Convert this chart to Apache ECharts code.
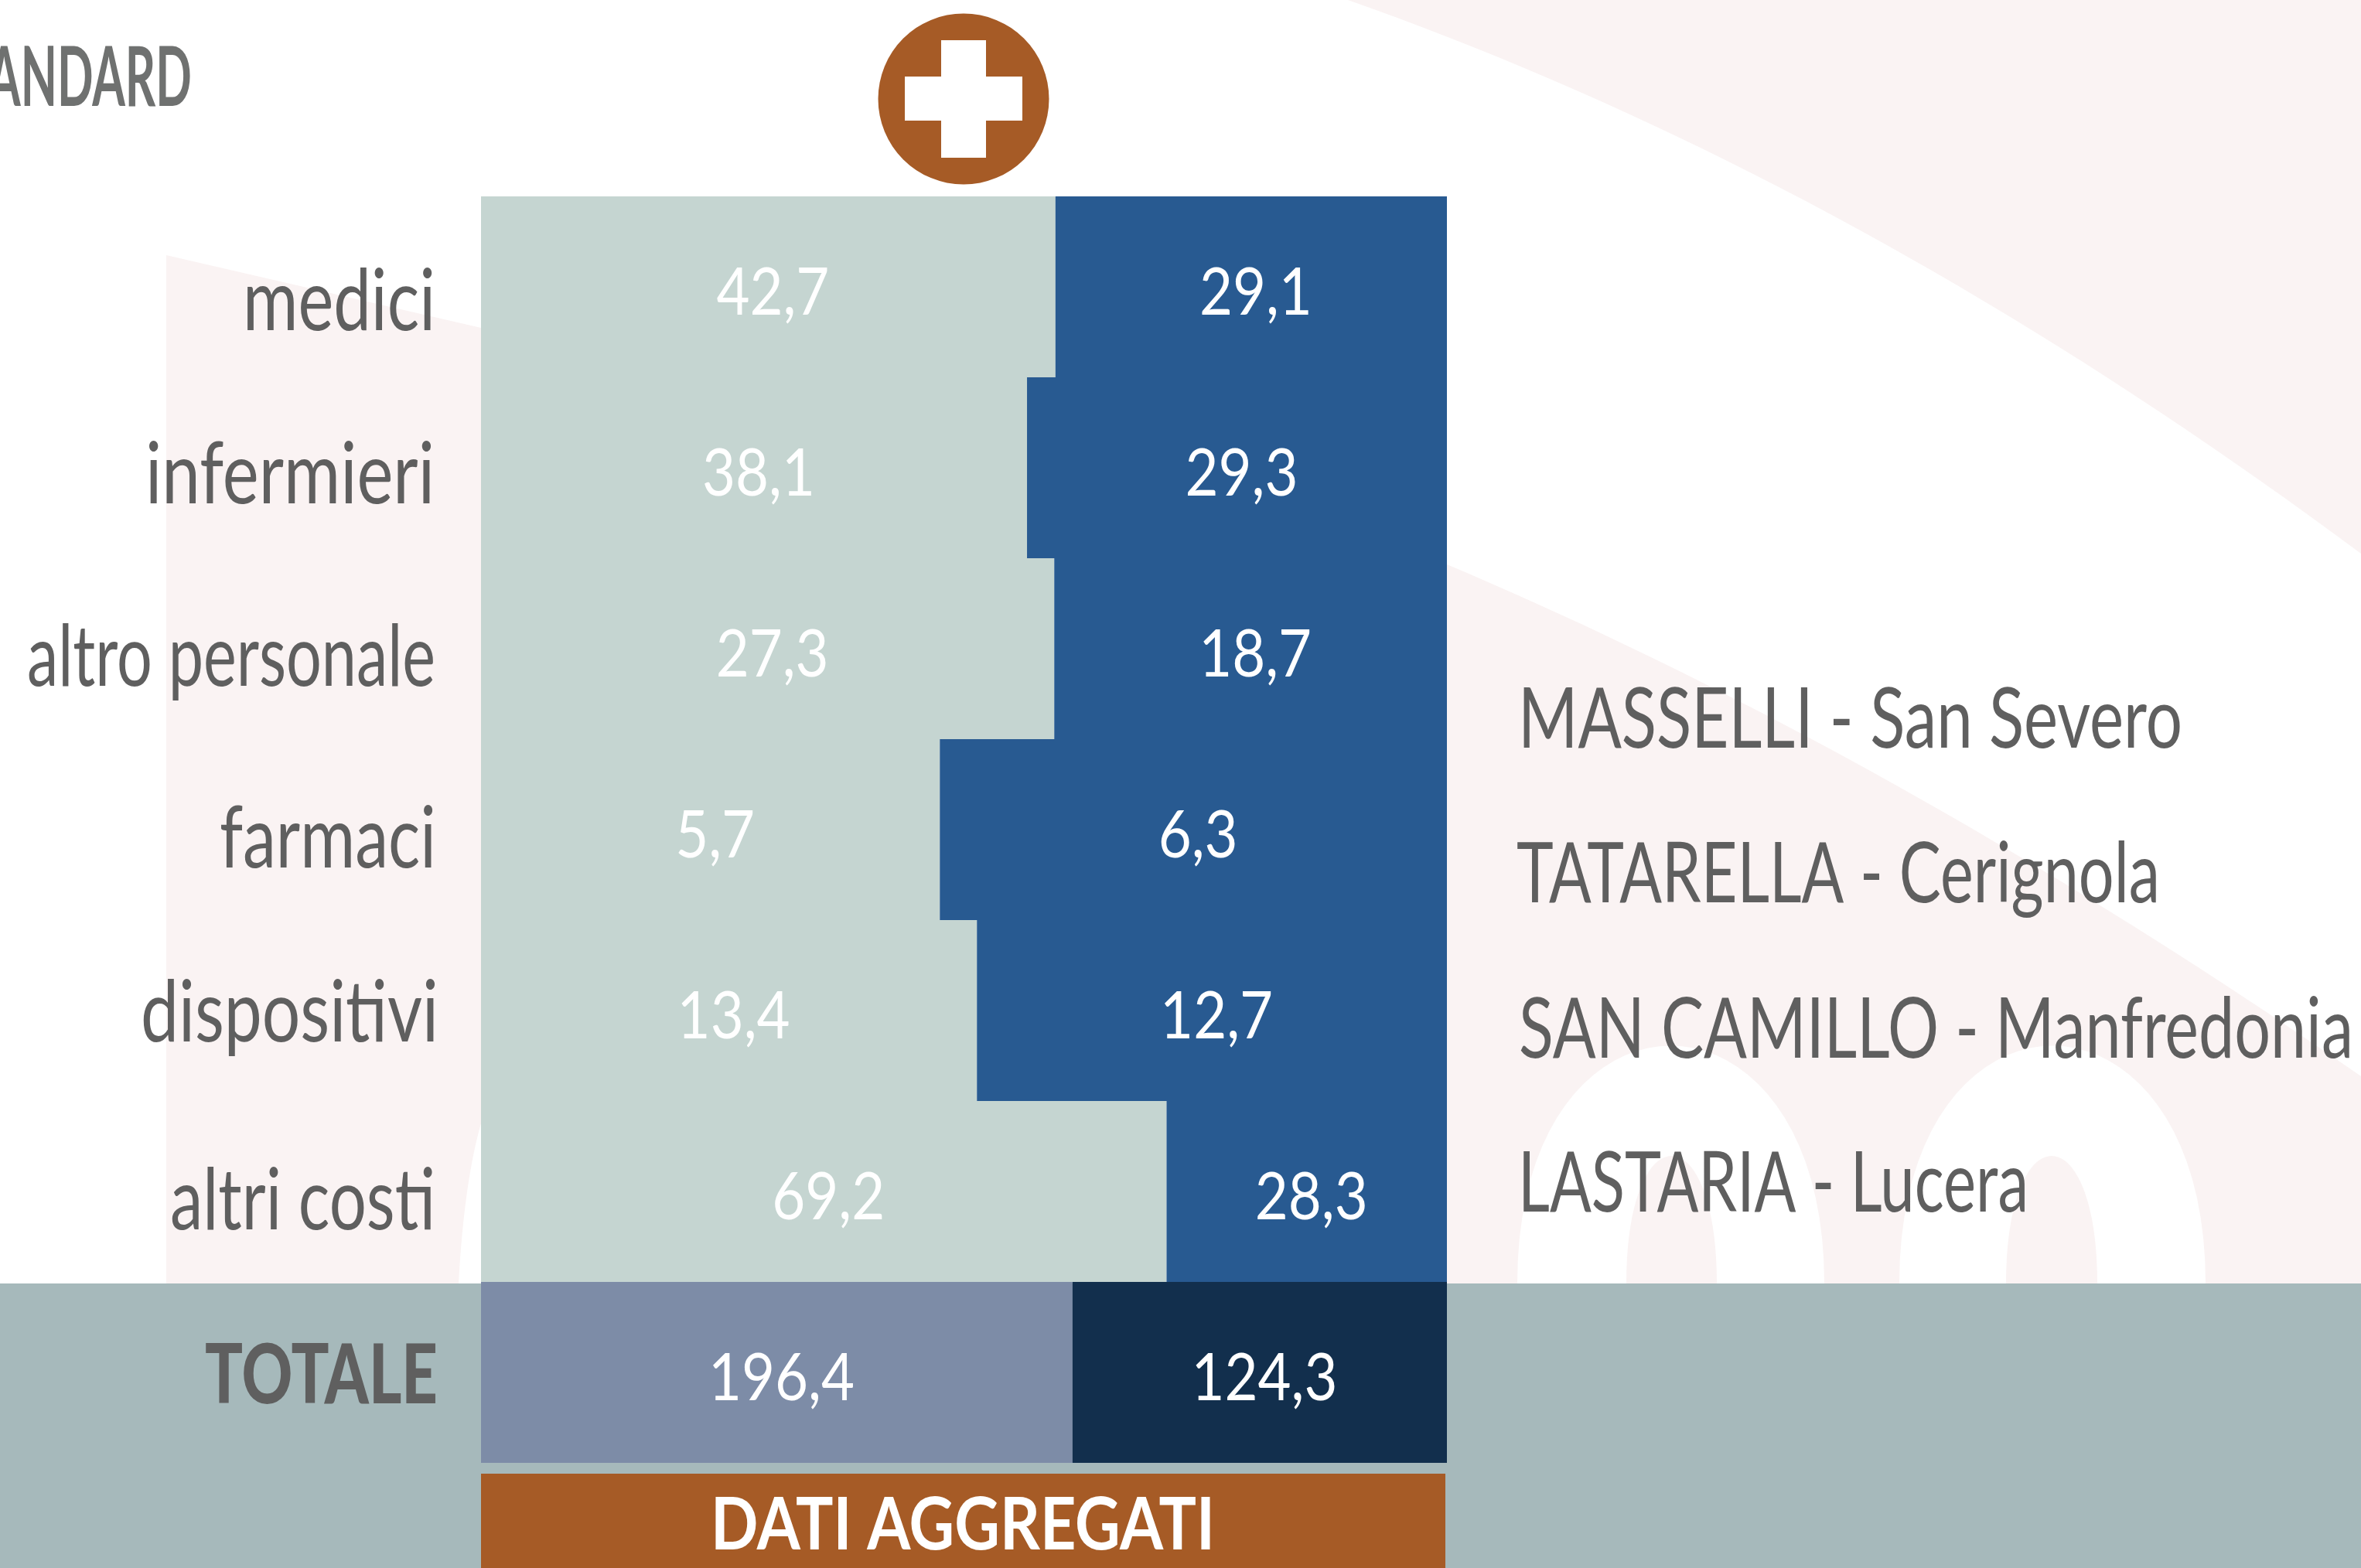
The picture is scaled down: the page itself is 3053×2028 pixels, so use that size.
<!DOCTYPE html>
<html><head><meta charset="utf-8">
<style>html,body{margin:0;padding:0;background:#fff}#c{width:3053px;height:2028px}</style>
<script src="https://cdn.jsdelivr.net/npm/echarts@6/dist/echarts.min.js"></script>
</head><body><div id="c"></div>
<script>
const categories = ['medici','infermieri','altro personale','farmaci','dispositivi','altri costi','TOTALE'];
const lightValues = [42.7,38.1,27.3,5.7,13.4,69.2,196.4];
const darkValues = [29.1,29.3,18.7,6.3,12.7,28.3,124.3];
const hospitals = ['MASSELLI - San Severo','TATARELLA - Cerignola','SAN CAMILLO - Manfredonia','LASTARIA - Lucera'];
const titleText = 'ANDARD';
const footerText = 'DATI AGGREGATI';

const PINK = '#faf3f3', WHITE = '#ffffff', BAND = '#a6b9bb', BROWN = '#a65b26', GREY = '#5f5f5f';
const fmt = v => String(v).replace('.', ',');
const share = (a, b) => a / (a + b) * 100;
const lastIndex = categories.length - 1;

// Only condensed look available: Lato squeezed horizontally to each label's measured width
const measureCtx = document.createElement('canvas').getContext('2d');
function fit(sample, font, width) { measureCtx.font = font; return width / measureCtx.measureText(sample).width; }
const F_VALUE = '400 86px Lato', F_CAT = '400 110px Lato', F_TOTAL = '900 106px Lato',
      F_LEG = '400 108px Lato', F_TITLE = '700 107px Lato', F_FOOT = '700 93px Lato';
const catWidths = [249, 374, 528, 280, 385, 343, 301];
const legWidths = [859, 832, 1079, 660];
const S_VALUE = fit('29,1', F_VALUE, 146), S_TITLE = fit('ANDARD', F_TITLE, 264), S_FOOT = fit(footerText, F_FOOT, 652);

function barSeries(name, own, other, color, totalColor) {
  return {
    name, type: 'bar', stack: 'all', barWidth: '100%', silent: true, z: 3,
    data: own.map((v, i) => ({ value: share(v, other[i]), itemStyle: { color: i === lastIndex ? totalColor : color } }))
  };
}
// value labels: placed at the centre of each stacked segment through the axes
function valueLabels(rows) {
  return {
    type: 'custom', coordinateSystem: 'cartesian2d', silent: true, z: 6, clip: false,
    data: rows,
    encode: { x: 0, y: 1 },
    renderItem(params, api) {
      const p = api.coord([api.value(0), api.value(1)]);
      return { type: 'text', x: p[0] + 6, y: p[1] + 8, scaleX: S_VALUE,
        style: { text: fmt(rows[params.dataIndex][2]), font: F_VALUE, fill: '#fff', textAlign: 'center', textVerticalAlign: 'middle' } };
    }
  };
}
const lightRows = lightValues.map((v, i) => [share(v, darkValues[i]) / 2, i, v]);
const darkRows = darkValues.map((v, i) => [100 - share(v, lightValues[i]) / 2, i, v]);

const catYNudge = [21, 11, 13, 14, 5, 14, 6];
const catXNudge = [1, 0, 1, 2, 5, 1, 4];
const categorySeries = {
  type: 'custom', coordinateSystem: 'cartesian2d', silent: true, z: 6, clip: false,
  data: categories.map((c, i) => [0, i]),
  encode: { x: 0, y: 1 },
  renderItem(params, api) {
    const i = params.dataIndex, p = api.coord([0, i]), total = i === lastIndex, font = total ? F_TOTAL : F_CAT;
    return { type: 'text', x: p[0] - 60 + catXNudge[i], y: p[1] + catYNudge[i], scaleX: fit(categories[i], font, catWidths[i]),
      style: { text: categories[i], font, fill: GREY, textAlign: 'right', textVerticalAlign: 'middle' } };
  }
};

// decorative background curves
function quad(a, c, b) {
  const out = [];
  for (let i = 0; i <= 40; i++) { const t = i / 40, u = 1 - t;
    out.push([u*u*a[0] + 2*u*t*c[0] + t*t*b[0], u*u*a[1] + 2*u*t*c[1] + t*t*b[1]]); }
  return out;
}
function arch(x0, x1, yBase, yCtl) {
  const out = [];
  for (let i = 0; i <= 40; i++) { const t = i / 40, u = 1 - t;
    out.push([u*u*u*x0 + 3*u*u*t*x0 + 3*u*t*t*x1 + t*t*t*x1, u*u*u*yBase + 3*u*u*t*yCtl + 3*u*t*t*yCtl + t*t*t*yBase]); }
  return out;
}
const poly = (points, fill) => ({ type: 'polygon', z: 0, silent: true, shape: { points }, style: { fill } });
const txt = (x, y, scaleX, text, font, fill, align) => ({ type: 'text', z: 5, silent: true, x, y, scaleX,
  style: { text, font, fill, textAlign: align, textVerticalAlign: 'middle' } });

const graphicEls = [
  poly(quad([1743,0],[2402,232],[3053,716]).concat([[3053,0]]), PINK),
  poly(quad([1871,730],[2450,975],[3053,1392]).concat([[3053,1660],[1871,1660]]), PINK),
  poly(arch(1962,2359,1660,1250), WHITE),
  poly(arch(2456,2852,1660,1250), WHITE),
  poly(arch(2103,2220,1660,1440), PINK),
  poly(arch(2594,2712,1660,1440), PINK),
  poly([[215,330],[622,424],[622,1660],[215,1660]], PINK),
  poly(quad([593,1660],[600,1530],[622,1453]).concat([[622,1660]]), WHITE),
  { type: 'rect', z: 1, silent: true, shape: { x: 0, y: 1660, width: 3053, height: 368 }, style: { fill: BAND } },
  { type: 'rect', z: 1, silent: true, shape: { x: 622, y: 1906, width: 1247, height: 122 }, style: { fill: BROWN } },
  txt(1245, 1974, S_FOOT, footerText, F_FOOT, '#fff', 'center'),
  txt(248, 102, S_TITLE, titleText, F_TITLE, '#6f7170', 'right'),
  { type: 'circle', z: 5, silent: true, shape: { cx: 1246, cy: 128, r: 110.5 }, style: { fill: BROWN } },
  { type: 'rect', z: 6, silent: true, shape: { x: 1170, y: 99, width: 152, height: 57 }, style: { fill: '#fff' } },
  { type: 'rect', z: 6, silent: true, shape: { x: 1217, y: 52, width: 58, height: 152 }, style: { fill: '#fff' } }
];
const legendX = [1963, 1961, 1964, 1963];
const legendY = [932, 1132, 1333, 1532];
hospitals.forEach((t, i) => graphicEls.push(txt(legendX[i], legendY[i], fit(t, F_LEG, legWidths[i]), t, F_LEG, GREY, 'left')));

const chart = echarts.init(document.getElementById('c'), null, { renderer: 'canvas' });
chart.setOption({
  animation: false,
  backgroundColor: '#fff',
  grid: { left: 622, top: 254, width: 1249, height: 1638, containLabel: false, outerBoundsMode: 'none' },
  xAxis: { type: 'value', min: 0, max: 100, show: false },
  yAxis: { type: 'category', inverse: true, data: categories,
    axisLine: { show: false }, axisTick: { show: false }, axisLabel: { show: false } },
  series: [
    barSeries('Light', lightValues, darkValues, '#c5d5d1', '#7d8ca7'),
    barSeries('Dark', darkValues, lightValues, '#285a91', '#122f4d'),
    valueLabels(lightRows),
    valueLabels(darkRows),
    categorySeries
  ],
  graphic: { elements: graphicEls }
});
</script></body></html>
